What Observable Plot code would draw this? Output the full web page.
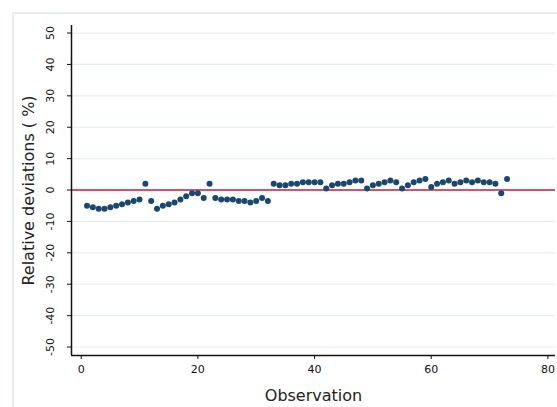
<!DOCTYPE html>
<html>
<head>
<meta charset="utf-8">
<script src="https://cdn.jsdelivr.net/npm/d3@7"></script>
<script src="https://cdn.jsdelivr.net/npm/@observablehq/plot@0.6"></script>
<style>
  html, body { margin: 0; padding: 0; background: #fff; }
  #wrap { position: relative; width: 557px; height: 407px; overflow: hidden; }
  #frame { position: absolute; left: 12px; top: 12px; width: 600px; height: 450px;
           border-top: 2px solid #e6eff0; border-left: 2px solid #e6eff0; box-sizing: border-box; }
  #chart { position: absolute; left: 0; top: 0; }
</style>
</head>
<body>
<div id="wrap"><div id="frame"></div><div id="chart"></div></div>
<script>
const observations = d3.range(1, 74);
const deviations = [
  -5, -5.5, -6, -6, -5.5, -5, -4.5, -4, -3.5, -3,
  2, -3.5, -6, -5, -4.5, -4, -3, -2, -1, -1,
  -2.5, 2, -2.5, -3, -3, -3, -3.5, -3.5, -4, -3.5,
  -2.5, -3.5, 2, 1.5, 1.5, 2, 2, 2.5, 2.5, 2.5,
  2.5, 0.5, 1.5, 2, 2, 2.5, 3, 3, 0.5, 1.5,
  2, 2.5, 3, 2.5, 0.5, 1.5, 2.5, 3, 3.5, 1,
  2, 2.5, 3, 2, 2.5, 3, 2.5, 3, 2.5, 2.5,
  2, -1, 3.5
];
const xTicks = [0, 20, 40, 60, 80];
const yTicks = [-50, -40, -30, -20, -10, 0, 10, 20, 30, 40, 50];
const xTitle = "Observation";
const yTitle = "Relative deviations ( %)";

const data = observations.map((o, i) => ({obs: o, dev: deviations[i]}));
const xDomain = [-1.66, 81.3];
const yDomain = [-52.7, 52.4];
const font = "DejaVu Sans, Verdana, sans-serif";

const chart = Plot.plot({
  width: 557,
  height: 407,
  marginLeft: 71,
  marginRight: 2,
  marginTop: 25,
  marginBottom: 52,
  style: {background: "transparent", fontFamily: font},
  x: {domain: xDomain},
  y: {domain: yDomain},
  marks: [
    Plot.ruleY(yTicks.filter(d => d !== 0), {stroke: "#e3eef0", strokeWidth: 1.2, strokeOpacity: 1}),
    Plot.ruleY([0], {stroke: "#c8163f", strokeWidth: 1.5}),
    Plot.ruleX([xDomain[0]], {stroke: "#111", strokeWidth: 1.5}),
    Plot.ruleY([yDomain[0]], {stroke: "#111", strokeWidth: 1.5}),
    Plot.axisX(xTicks, {tickSize: 4, tickPadding: 6, fontSize: 11, label: null, stroke: "#111", fill: "#111"}),
    Plot.axisY(yTicks, {tickSize: 4, tickFormat: () => "", label: null, stroke: "#111"}),
    Plot.text(yTicks, {y: d => d, frameAnchor: "left", dx: -21, rotate: -90, textAnchor: "middle", lineAnchor: "middle", text: d => String(d), fontSize: 11, fill: "#111"}),
    Plot.text([yTitle], {frameAnchor: "left", dx: -43, rotate: -90, textAnchor: "middle", lineAnchor: "middle", fontSize: 16, fill: "#222"}),
    Plot.text([xTitle], {frameAnchor: "bottom", dy: 40, textAnchor: "middle", lineAnchor: "middle", fontSize: 16, fill: "#222"}),
    Plot.dot(data, {x: "obs", y: "dev", r: 3, fill: "#1a476f", stroke: "none"})
  ]
});
document.getElementById("chart").appendChild(chart);
</script>
</body>
</html>
